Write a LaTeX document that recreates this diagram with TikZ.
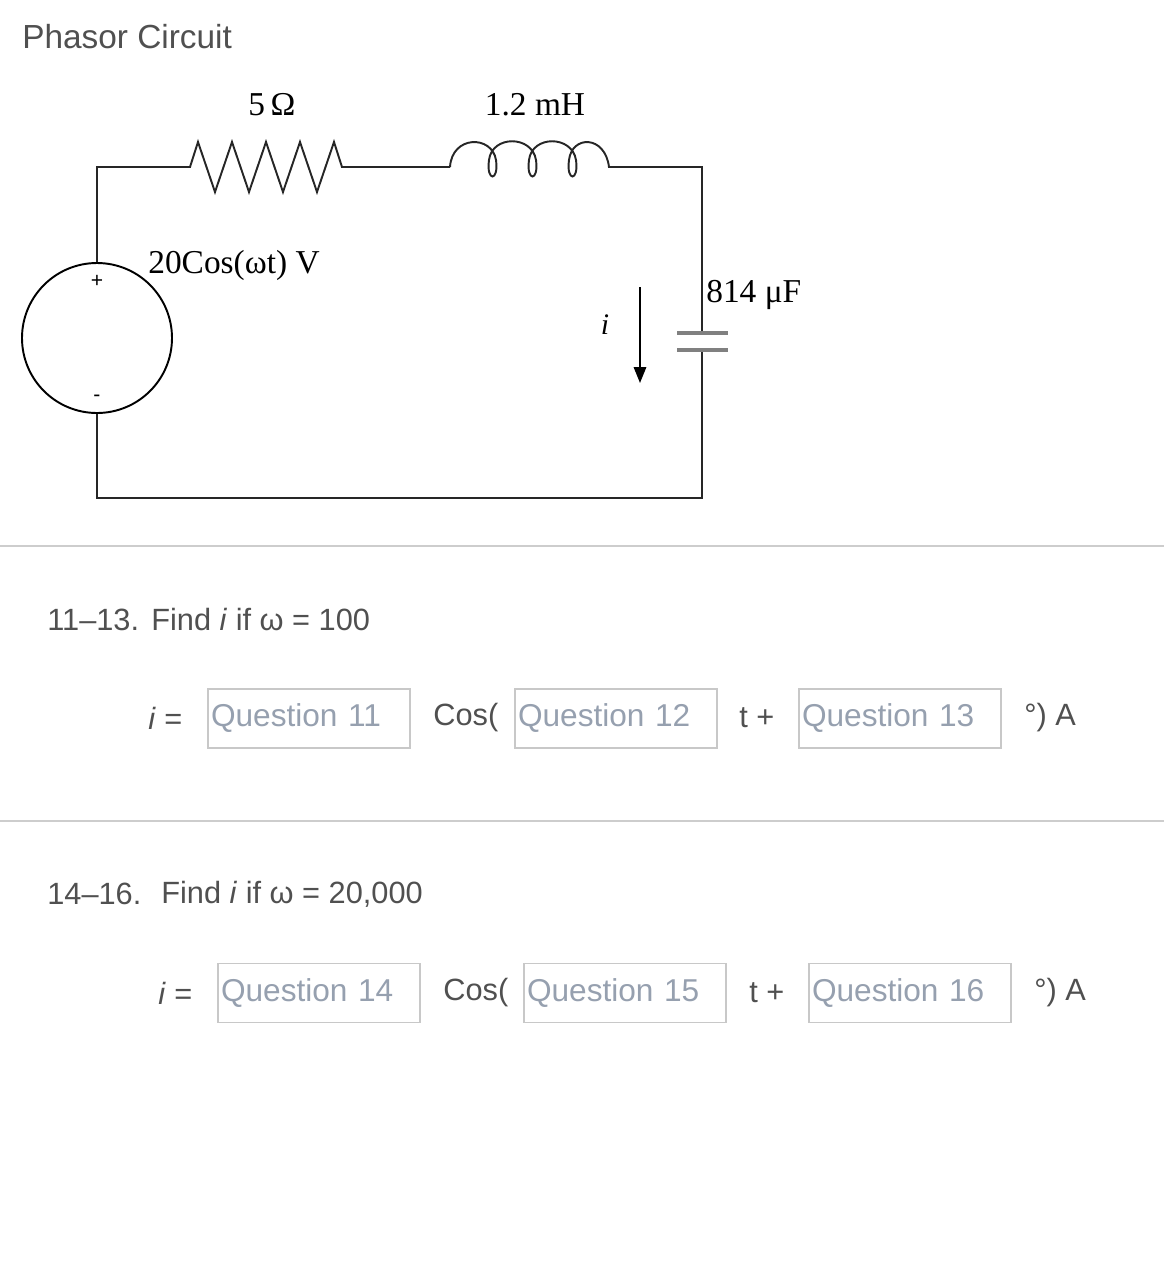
\documentclass[tikz,border=0pt]{standalone}
\usepackage{fontspec}
\setmainfont{Liberation Sans}
\newfontfamily\serifc{Liberation Serif}
\usetikzlibrary{arrows.meta}
\definecolor{txt}{RGB}{80,80,80}
\definecolor{qtxt}{RGB}{150,160,175}
\definecolor{qbox}{RGB}{200,200,200}
\definecolor{sep}{RGB}{205,205,205}
\begin{document}
\begin{tikzpicture}[x=0.02cm,y=-0.02cm,
  wire/.style={line width=1.1pt,black!85},
  clab/.style={font=\serifc\fontsize{19}{22}\selectfont,inner sep=0pt},
  qlab/.style={font=\fontsize{17.5}{20}\selectfont,text=txt,inner sep=0pt,anchor=west},
  qbx/.style={draw=qbox,line width=0.9pt,minimum width=202*0.02cm,minimum height=59*0.02cm,inner sep=0pt,font=\fontsize{18}{20}\selectfont,text=qtxt,text width=196*0.02cm,align=left}]
\useasboundingbox (0,0) rectangle (1164,1278);
% title
\node[anchor=west,inner sep=0pt,text=txt,font=\fontsize{19}{22}\selectfont] (title) at (22,37) {Phasor Circuit};
% circuit
\coordinate (tl) at (97,167);
\coordinate (tr) at (702,167);
\coordinate (bl) at (97,498);
\coordinate (br) at (702,498);
\node[draw,circle,minimum size=150*0.02cm,line width=1.1pt,inner sep=0pt] (src) at (97,338) {};
\draw[wire] (src.north) -- (tl) -- (190,167) -- (198,142) -- (215,192) -- (232,142) -- (249,192) -- (266,142) -- (283,192) -- (300,142) -- (317,192) -- (334,142) -- (342,167) -- (450,167);
% inductor
\draw[wire] (450,167) .. controls (452,135) and (492,135) .. (496,160) .. controls (499,182) and (486,182) .. (489,160)
  .. controls (492,135) and (532,135) .. (536,160) .. controls (539,182) and (526,182) .. (529,160)
  .. controls (532,135) and (572,135) .. (576,160) .. controls (579,182) and (566,182) .. (569,160)
  .. controls (572,135) and (605,135) .. (609,167) -- (tr) -- (702,333);
\draw[wire] (702,350) -- (br) -- (bl) -- (src.south);
\draw[line width=2.4pt,gray] (677,333) -- (728,333) (677,350) -- (728,350);
\node[font=\fontsize{12}{14}\selectfont,inner sep=0pt] (plus) at (97,281) {+};
\node[font=\fontsize{12}{14}\selectfont,inner sep=0pt] (minus) at (97,398) {-};
\coordinate (a1) at (640,287);
\coordinate (a2) at (640,383);
\draw[line width=1.1pt,-{Triangle[length=9pt,width=7pt]}] (a1) -- (a2);
\node[clab,font=\serifc\itshape\fontsize{17}{20}\selectfont] (ilab) at (605,325) {i};
\node[clab] (rlab) at (272,105) {5\,Ω};
\node[clab] (llab) at (535,105) {1.2 mH};
\node[clab,anchor=west] (vlab) at (148,265) {20Cos(ωt) V};
\node[clab,anchor=west] (clab1) at (706,295) {814 μF};
% separators
\draw[sep,line width=1pt] (0,546) -- (1164,546);
\draw[sep,line width=1pt] (0,821) -- (1164,821);
% question 11-13
\node[qlab] (h1) at (47,620) {11–13.};
\node[qlab] (f1) at (151,620) {Find \textit{i} if ω = 100};
\node[qlab] (e1) at (148,718) {\textit{i} =};
\node[qbx] (q11) at (309,718.5) {Question 11};
\node[qlab] (c1) at (433,718) {Cos(};
\node[qbx] (q12) at (616,718.5) {Question 12};
\node[qlab] (t1) at (739,718) {t +};
\node[qbx] (q13) at (900,718.5) {Question 13};
\node[qlab] (d1) at (1024,718) {°) A};
% question 14-16
\node[qlab] (h2) at (47,894) {14–16.};
\node[qlab] (f2) at (161,894) {Find \textit{i} if ω = 20,000};
\node[qlab] (e2) at (158,993) {\textit{i} =};
\node[qbx] (q14) at (319,993) {Question 14};
\node[qlab] (c2) at (443,993) {Cos(};
\node[qbx] (q15) at (625,993) {Question 15};
\node[qlab] (t2) at (749,993) {t +};
\node[qbx] (q16) at (910,993) {Question 16};
\node[qlab] (d2) at (1034,993) {°) A};
\end{tikzpicture}
\end{document}
